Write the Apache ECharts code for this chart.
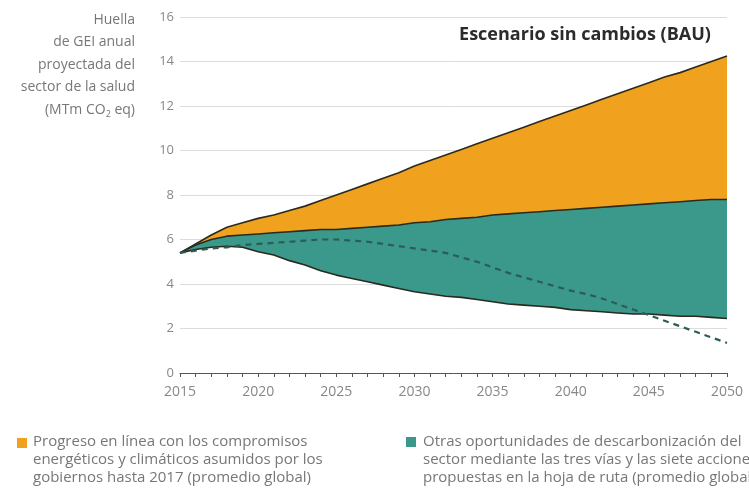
<!DOCTYPE html>
<html>
<head>
<meta charset="utf-8">
<script src="https://cdn.jsdelivr.net/npm/echarts@6/dist/echarts.min.js"></script>
<style>html,body{margin:0;padding:0;background:#fff;}#c{width:749px;height:496px;}</style>
</head>
<body>
<div id="c"></div>
<script>
var years = [];
for (var y = 2015; y <= 2050; y++) years.push(String(y));

var bauTop = [5.4,5.8,6.2,6.55,6.75,6.95,7.1,7.3,7.5,7.75,8.0,8.25,8.5,8.75,9.0,9.3,9.55,9.8,10.05,10.3,10.55,10.8,11.05,11.3,11.55,11.8,12.05,12.3,12.55,12.8,13.05,13.3,13.5,13.75,14.0,14.25];
var commitments = [5.4,5.75,6.0,6.15,6.2,6.25,6.3,6.35,6.4,6.45,6.45,6.5,6.55,6.6,6.65,6.75,6.8,6.9,6.95,7.0,7.1,7.15,7.2,7.25,7.3,7.35,7.4,7.45,7.5,7.55,7.6,7.65,7.7,7.75,7.8,7.8];
var roadmap = [5.4,5.55,5.65,5.7,5.65,5.45,5.3,5.05,4.85,4.6,4.4,4.25,4.1,3.95,3.8,3.65,3.55,3.45,3.4,3.3,3.2,3.1,3.05,3.0,2.95,2.85,2.8,2.75,2.7,2.65,2.65,2.6,2.55,2.55,2.5,2.45];
var dashed = [5.4,5.5,5.6,5.65,5.75,5.8,5.85,5.9,5.95,6.0,6.0,5.95,5.9,5.8,5.7,5.6,5.5,5.4,5.2,5.0,4.75,4.5,4.3,4.1,3.9,3.7,3.55,3.35,3.1,2.85,2.6,2.35,2.1,1.85,1.6,1.35];

var titleText = 'Escenario sin cambios (BAU)';
var yNameLines = ['Huella', 'de GEI anual', 'proyectada del', 'sector de la salud'];
var legend1 = ['Progreso en línea con los compromisos', 'energéticos y climáticos asumidos por los', 'gobiernos hasta 2017 (promedio global)'];
var legend2 = ['Otras oportunidades de descarbonización del', 'sector mediante las tres vías y las siete acciones', 'propuestas en la hoja de ruta (promedio global)'];

var YELLOW = '#F0A21E', TEAL = '#3A998A', EDGE = '#2a2a1e', DASH = '#2c5c56';
var FONT = 'Open Sans';

function diff(a, b) { return a.map(function (v, i) { return Math.round((v - b[i]) * 1000) / 1000; }); }

var chart = echarts.init(document.getElementById('c'), null, {renderer: 'canvas'});

var graphics = [];
yNameLines.forEach(function (t, i) {
  graphics.push({type: 'text', x: 135, y: 20 + i * 22.5, style: {text: t, align: 'right', verticalAlign: 'middle', fill: '#777', font: '14px "' + FONT + '"'}});
});
graphics.push({type: 'text', x: 135, y: 110, style: {
  text: '{a|(MTm CO}{s|2}{a| eq)}', align: 'right', verticalAlign: 'middle',
  rich: {a: {fill: '#777', font: '14px "' + FONT + '"'}, s: {fill: '#777', font: '9px "' + FONT + '"', padding: [9, 0, 0, 0]}}
}});
graphics.push({type: 'text', x: 585, y: 35, style: {text: titleText, align: 'center', verticalAlign: 'middle', fill: '#2b2b2b', font: 'bold 18px "' + FONT + '"'}});
graphics.push({type: 'rect', shape: {x: 17, y: 438, width: 10, height: 10}, style: {fill: YELLOW}});
graphics.push({type: 'rect', shape: {x: 406, y: 437, width: 10, height: 10}, style: {fill: TEAL}});
legend1.forEach(function (t, i) {
  graphics.push({type: 'text', x: 33, y: 442 + i * 18, style: {text: t, align: 'left', verticalAlign: 'middle', fill: '#777', font: '15px "' + FONT + '"'}});
});
legend2.forEach(function (t, i) {
  graphics.push({type: 'text', x: 423, y: 442 + i * 18, style: {text: t, align: 'left', verticalAlign: 'middle', fill: '#777', font: '15px "' + FONT + '"'}});
});

chart.setOption({
  animation: false,
  textStyle: {fontFamily: FONT},
  grid: {left: 180, right: 22, top: 17, bottom: 123, containLabel: false},
  xAxis: {
    type: 'category', data: years, boundaryGap: false,
    axisLine: {lineStyle: {color: '#555', width: 1}},
    axisTick: {interval: 0, length: 4, lineStyle: {color: '#555'}},
    axisLabel: {interval: 4, color: '#888', fontSize: 14, margin: 12},
    splitLine: {show: false}
  },
  yAxis: {
    type: 'value', min: 0, max: 16, interval: 2,
    axisLine: {show: false}, axisTick: {show: false},
    axisLabel: {color: '#888', fontSize: 13, margin: 6},
    splitLine: {lineStyle: {color: '#dcdcdc', width: 1}}
  },
  series: [
    {name: 'base', type: 'line', stack: 'a', data: roadmap, symbol: 'none', silent: true,
     lineStyle: {color: EDGE, width: 1.6}, z: 3},
    {name: 'teal', type: 'line', stack: 'a', data: diff(commitments, roadmap), symbol: 'none',
     lineStyle: {color: EDGE, width: 1.6}, areaStyle: {color: TEAL, opacity: 1}, z: 2},
    {name: 'yellow', type: 'line', stack: 'a', data: diff(bauTop, commitments), symbol: 'none',
     lineStyle: {color: EDGE, width: 1.6}, areaStyle: {color: YELLOW, opacity: 1}, z: 2},
    {name: 'dashed', type: 'line', data: dashed, symbol: 'none',
     lineStyle: {color: DASH, width: 2.2, type: [6, 5]}, z: 4}
  ],
  graphic: graphics
});
</script>
</body>
</html>
